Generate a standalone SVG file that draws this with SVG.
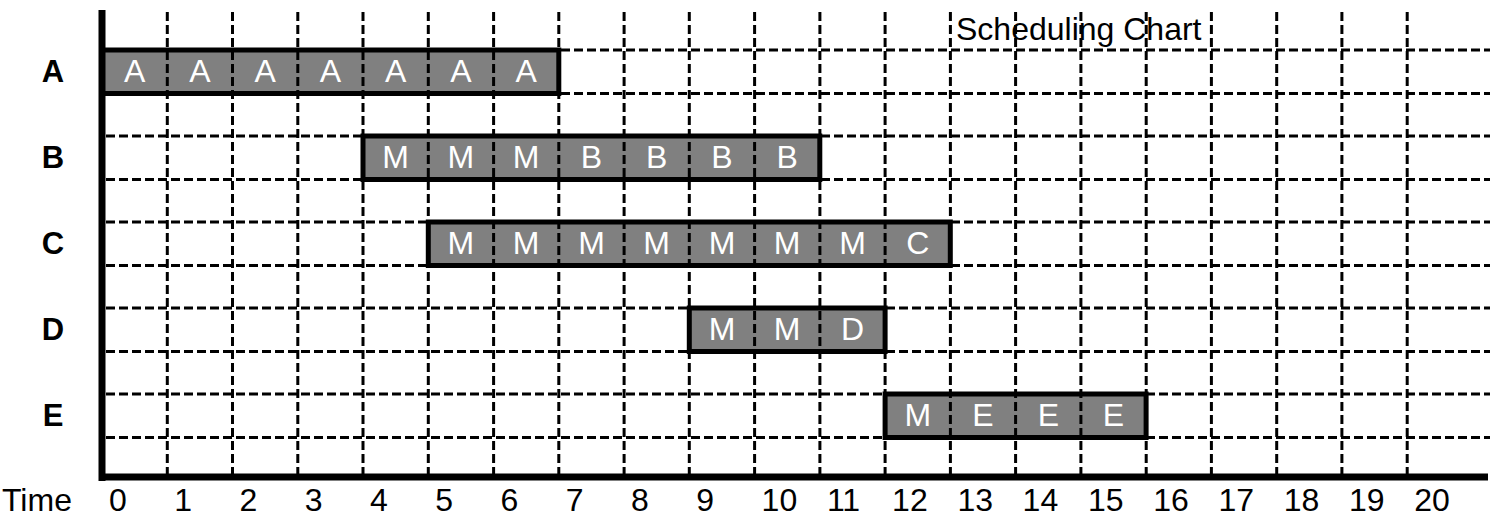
<svg xmlns="http://www.w3.org/2000/svg" width="1496" height="516" viewBox="0 0 1496 516">
<style>
.grid{stroke:#000;stroke-width:3;stroke-dasharray:9 4;fill:none}
.bar{fill:#808080;stroke:none}
.barb{fill:none;stroke:#000;stroke-width:5}
.axis{stroke:#000;stroke-width:7;fill:none}
.lbl{font-family:"Liberation Sans",Arial,sans-serif;font-size:32px;fill:#000}
.row{font-family:"Liberation Sans",Arial,sans-serif;font-size:31px;font-weight:bold;fill:#000;text-anchor:middle}
.cell{font-family:"Liberation Sans",Arial,sans-serif;font-size:32px;fill:#fff;text-anchor:middle}
</style>
<rect width="1496" height="516" fill="#fff"/>
<g id="bars-fill">
<rect class="bar" x="102" y="50" width="456.8" height="43.5"/>
<rect class="bar" x="363" y="136" width="456.8" height="43.5"/>
<rect class="bar" x="428.3" y="222" width="522" height="43.5"/>
<rect class="bar" x="689.3" y="308" width="195.8" height="43.5"/>
<rect class="bar" x="885.1" y="394" width="261" height="43.5"/>
</g>
<g id="connectors">
<path class="grid" d="M106 50H1490M106 93.5H1490M106 136H1490M106 179.5H1490M106 222H1490M106 265.5H1490M106 308H1490M106 351.5H1490M106 394H1490M106 437.5H1490"/>
<path class="grid" d="M167.3 12V474M232.5 12V474M297.8 12V474M363 12V474M428.3 12V474M493.6 12V474M558.8 12V474M624.1 12V474M689.3 12V474M754.6 12V474M819.9 12V474M885.1 12V474M950.4 12V474M1015.6 12V474M1080.9 12V474M1146.2 12V474M1211.4 12V474M1276.7 12V474M1341.9 12V474M1407.2 12V474"/>
<path class="axis" d="M102 10V481M98.5 477H1488"/>
</g>
<g id="row-A">
<text class="row" x="53" y="82">A</text>
<rect class="barb" x="102" y="50" width="456.8" height="43.5"/>
<text class="cell" x="134.6" y="82">A</text><text class="cell" x="199.9" y="82">A</text><text class="cell" x="265.2" y="82">A</text><text class="cell" x="330.4" y="82">A</text><text class="cell" x="395.7" y="82">A</text><text class="cell" x="460.9" y="82">A</text><text class="cell" x="526.2" y="82">A</text>
</g>
<g id="row-B">
<text class="row" x="53" y="168">B</text>
<rect class="barb" x="363" y="136" width="456.8" height="43.5"/>
<text class="cell" x="395.7" y="168">M</text><text class="cell" x="460.9" y="168">M</text><text class="cell" x="526.2" y="168">M</text><text class="cell" x="591.5" y="168">B</text><text class="cell" x="656.7" y="168">B</text><text class="cell" x="722" y="168">B</text><text class="cell" x="787.2" y="168">B</text>
</g>
<g id="row-C">
<text class="row" x="53" y="254">C</text>
<rect class="barb" x="428.3" y="222" width="522" height="43.5"/>
<text class="cell" x="460.9" y="254">M</text><text class="cell" x="526.2" y="254">M</text><text class="cell" x="591.5" y="254">M</text><text class="cell" x="656.7" y="254">M</text><text class="cell" x="722" y="254">M</text><text class="cell" x="787.2" y="254">M</text><text class="cell" x="852.5" y="254">M</text><text class="cell" x="917.8" y="254">C</text>
</g>
<g id="row-D">
<text class="row" x="53" y="340">D</text>
<rect class="barb" x="689.3" y="308" width="195.8" height="43.5"/>
<text class="cell" x="722" y="340">M</text><text class="cell" x="787.2" y="340">M</text><text class="cell" x="852.5" y="340">D</text>
</g>
<g id="row-E">
<text class="row" x="53" y="426">E</text>
<rect class="barb" x="885.1" y="394" width="261" height="43.5"/>
<text class="cell" x="917.8" y="426">M</text><text class="cell" x="983" y="426">E</text><text class="cell" x="1048.3" y="426">E</text><text class="cell" x="1113.5" y="426">E</text>
</g>
<g id="title">
<text class="lbl" x="956" y="40">Scheduling Chart</text>
</g>
<g id="time-axis">
<text class="lbl" x="2" y="511">Time</text>
<text class="lbl" x="109" y="511">0</text><text class="lbl" x="174.3" y="511">1</text><text class="lbl" x="239.5" y="511">2</text><text class="lbl" x="304.8" y="511">3</text><text class="lbl" x="370" y="511">4</text><text class="lbl" x="435.3" y="511">5</text><text class="lbl" x="500.6" y="511">6</text><text class="lbl" x="565.8" y="511">7</text><text class="lbl" x="631.1" y="511">8</text><text class="lbl" x="696.3" y="511">9</text><text class="lbl" x="761.6" y="511">10</text><text class="lbl" x="826.9" y="511">11</text><text class="lbl" x="892.1" y="511">12</text><text class="lbl" x="957.4" y="511">13</text><text class="lbl" x="1022.6" y="511">14</text><text class="lbl" x="1087.9" y="511">15</text><text class="lbl" x="1153.2" y="511">16</text><text class="lbl" x="1218.4" y="511">17</text><text class="lbl" x="1283.7" y="511">18</text><text class="lbl" x="1348.9" y="511">19</text><text class="lbl" x="1414.2" y="511">20</text>
</g>
</svg>
